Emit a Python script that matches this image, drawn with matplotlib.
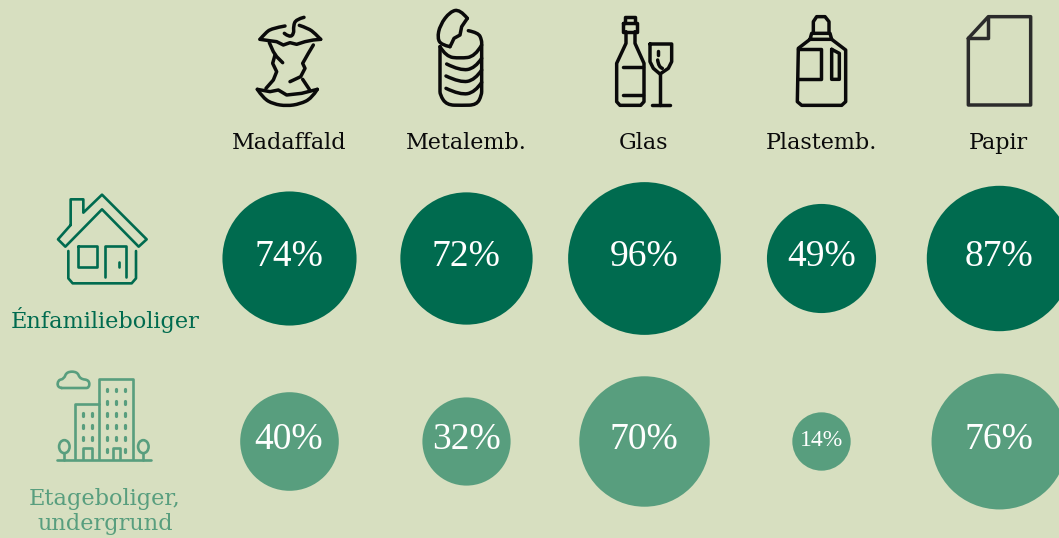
import numpy as np
import matplotlib
matplotlib.use("Agg")
import matplotlib.pyplot as plt
from matplotlib.path import Path
from matplotlib.patches import PathPatch, Ellipse

BG = "#D7DFC0"
DARK = "#006B4F"
LIGHT = "#589E7E"
BLACK = "#0A0A0A"

categories = ["Madaffald", "Metalemb.", "Glas", "Plastemb.", "Papir"]
enfamilie = [74, 72, 96, 49, 87]
etage = [40, 32, 70, 14, 76]
row_labels = ["Énfamilieboliger", "Etageboliger,\nundergrund"]

col_x = [288.7, 466.2, 643.7, 821.2, 998.7]
row_y = [257.7, 441]
AREA_PER_PCT = 126  # pt^2 per percentage point


fig = plt.figure(figsize=(10.59, 5.38), dpi=100, facecolor=BG)
ax = fig.add_axes([0, 0, 1, 1])
ax.set_xlim(0, 1059)
ax.set_ylim(538, 0)
ax.axis("off")


def stroke(points, off, color=BLACK, lw=2.5, closed=False, smooth=False):
    pts = np.array(points, dtype=float) / 3 + off
    if closed:
        pts = np.vstack([pts, pts[0]])
    if smooth and len(pts) > 2:
        verts = [pts[0]]
        codes = [Path.MOVETO]
        for i in range(1, len(pts) - 1):
            end = pts[i + 1] if i == len(pts) - 2 else (pts[i] + pts[i + 1]) / 2
            verts += [pts[i], end]
            codes += [Path.CURVE3, Path.CURVE3]
        path = Path(verts, codes)
    else:
        path = Path(pts)
    ax.add_patch(PathPatch(path, fc="none", ec=color, lw=lw,
                           capstyle="round", joinstyle="round"))


def draw_apple():
    off = (230, 0)
    stroke([(165, 78), (125, 85), (105, 100), (90, 118)], off, smooth=True)
    stroke([(90, 118), (118, 122), (140, 125), (160, 135), (180, 128), (200, 133), (225, 125), (250, 120), (272, 118)],
           off)
    stroke([(208, 76), (235, 85), (255, 100), (272, 118)], off, smooth=True)
    stroke([(222, 52), (198, 58), (190, 78), (192, 102), (178, 112), (163, 100)], off, smooth=True)
    stroke([(118, 128), (130, 155), (140, 170), (158, 188)], off)
    stroke([(135, 165), (128, 190), (140, 215), (130, 240), (108, 265)], off)
    stroke([(250, 135), (235, 160), (218, 190), (225, 205), (212, 230), (180, 245)], off)
    stroke([(218, 238), (238, 268)], off)
    stroke([(82, 268), (120, 275), (145, 270), (170, 285), (215, 280), (262, 268)], off)
    stroke([(82, 268), (100, 295), (130, 312), (170, 318), (210, 312), (245, 295), (262, 268)], off, smooth=True)


def draw_can():
    off = (230, 0)
    stroke([(660, 140), (635, 135), (622, 115), (630, 75), (660, 35), (690, 28), (712, 55)], off, smooth=True)
    stroke([(712, 55), (695, 80), (690, 105), (672, 115), (665, 130), (660, 140)], off)
    stroke([(630, 140), (630, 160), (630, 265), (630, 285), (650, 315), (695, 316), (740, 315),
            (755, 285), (755, 265), (755, 135), (755, 120), (745, 98), (715, 92)], off, smooth=True)
    stroke([(630, 140), (648, 170), (690, 175), (735, 170), (755, 135)], off, smooth=True)
    stroke([(650, 192), (690, 212), (735, 205), (755, 175)], off, smooth=True)
    stroke([(648, 228), (690, 248), (735, 240), (755, 210)], off, smooth=True)
    stroke([(648, 265), (690, 285), (735, 277), (755, 247)], off, smooth=True)


def draw_glass():
    off = (600, 0)
    stroke([(74, 70), (74, 50), (106, 50), (106, 70)], off)
    stroke([(70, 70), (112, 70), (112, 95), (70, 95)], off, closed=True)
    stroke([(78, 95), (78, 130), (50, 190), (50, 305), (60, 316), (122, 316), (132, 305),
            (132, 190), (105, 130), (105, 95)], off)
    stroke([(68, 200), (130, 200)], off)
    stroke([(68, 285), (130, 285)], off)
    stroke([(150, 132), (215, 132), (215, 185), (205, 205), (180, 222), (160, 205), (150, 185)], off, closed=True)
    stroke([(180, 222), (180, 315)], off)
    stroke([(155, 315), (210, 315)], off)
    stroke([(173, 152), (173, 165)], off)
    stroke([(173, 180), (176, 202), (187, 205)], off, smooth=True)


def draw_bottle():
    off = (600, 0)
    stroke([(640, 100), (640, 65), (650, 50), (675, 50), (687, 65), (687, 100)], off)
    stroke([(630, 118), (635, 100), (690, 100), (695, 118)], off, closed=True)
    stroke([(630, 118), (595, 145), (592, 305), (605, 316), (725, 316), (737, 305), (737, 150), (695, 118)], off)
    stroke([(595, 148), (662, 148), (662, 238), (595, 238)], off)
    stroke([(695, 148), (718, 160), (718, 238), (695, 238)], off, closed=True)


def draw_paper():
    off = (600, 0)
    stroke([(1105, 115), (1165, 50), (1292, 50), (1292, 315), (1105, 315)], off, color="#2B2B2B", closed=True)
    stroke([(1165, 50), (1165, 115), (1105, 115)], off, color="#2B2B2B")


def draw_house():
    off = (0, 180)
    lw = 1.9
    stroke([(212, 135), (212, 58), (250, 58), (250, 98), (306, 44), (440, 178), (416, 200), (306, 88),
            (196, 200), (174, 178)], off, DARK, lw, closed=True)
    stroke([(205, 213), (205, 295), (218, 310), (395, 310), (408, 295), (408, 213)], off, DARK, lw)
    stroke([(235, 197), (290, 197), (290, 262), (235, 262)], off, DARK, lw, closed=True)
    stroke([(315, 292), (315, 197), (378, 197), (378, 292)], off, DARK, lw)
    stroke([(358, 245), (358, 262)], off, DARK, lw)


def draw_building():
    off = (0, 180)
    lw = 1.9
    stroke([(185, 624), (172, 622), (174, 600), (192, 597), (200, 575), (232, 575), (240, 597),
            (268, 600), (268, 624), (250, 624)], off, LIGHT, lw, closed=True, smooth=True)
    stroke([(298, 838), (298, 598), (400, 598), (400, 838)], off, LIGHT, lw)
    stroke([(225, 838), (225, 672), (298, 672)], off, LIGHT, lw)
    stroke([(172, 840), (452, 840)], off, LIGHT, lw)
    stroke([(250, 838), (250, 805), (275, 805), (275, 838)], off, LIGHT, lw)
    stroke([(338, 838), (338, 805), (360, 805), (360, 838)], off, LIGHT, lw)
    for tx in (193, 430):
        ax.add_patch(Ellipse((tx / 3, 800 / 3 + 180), 10.5, 13, fc="none", ec=LIGHT, lw=lw))
        stroke([(tx, 820), (tx, 840)], off, LIGHT, lw)
    for wx in (321, 348, 376):
        for wy in (630, 667, 703, 739, 775):
            stroke([(wx, wy - 4), (wx, wy + 4)], off, LIGHT, 2.3)
    for wx in (321, 376):
        stroke([(wx, 808), (wx, 816)], off, LIGHT, 2.3)
    for wx in (248, 276):
        for wy in (703, 739, 775):
            stroke([(wx, wy - 4), (wx, wy + 4)], off, LIGHT, 2.3)


for draw in (draw_apple, draw_can, draw_glass, draw_bottle, draw_paper, draw_house, draw_building):
    draw()

for name, x in zip(categories, col_x):
    ax.text(x, 143, name, ha="center", va="center", family="DejaVu Serif", fontsize=16, color=BLACK)

rows = [(enfamilie, DARK), (etage, LIGHT)]
for (vals, color), y in zip(rows, row_y):
    for v, x in zip(vals, col_x):
        ax.scatter([x], [y], s=AREA_PER_PCT * v, color=color, linewidths=0, clip_on=True)
        ax.text(x, y - 1, f"{v}%", ha="center", va="center", color="white",
                family="Liberation Serif", fontsize=17 if v < 20 else 27)

ax.text(105, 320, row_labels[0], ha="center", va="center", family="DejaVu Serif", fontsize=16.2, color=DARK)
ax.text(105, 511.5, row_labels[1], ha="center", va="center", family="DejaVu Serif", fontsize=16.2,
        color=LIGHT, linespacing=1.2)

fig.savefig("out.png", dpi=100, facecolor=BG)
plt.close(fig)
